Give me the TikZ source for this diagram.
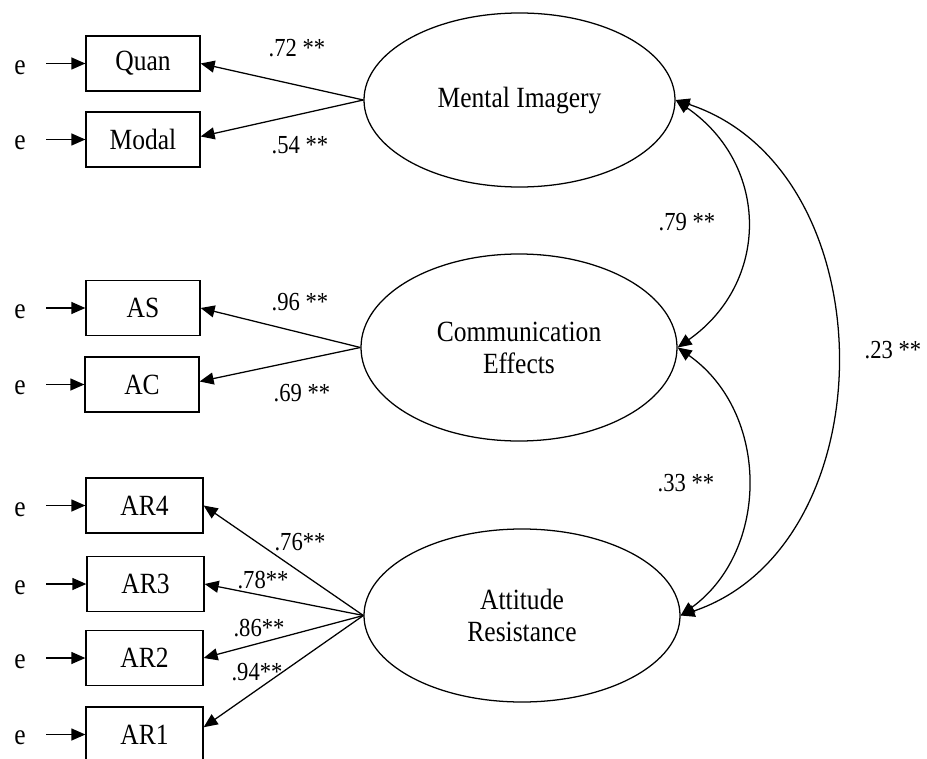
\documentclass[tikz,border=0pt]{standalone}
\usepackage{fontspec}
\setmainfont[FakeStretch=0.87]{Liberation Serif}
\usetikzlibrary{shapes.geometric,arrows.meta}
\begin{document}
\begin{tikzpicture}[x=0.75pt,y=-0.75pt,
  line width=0.95pt,
  >={Triangle[length=10.5pt,width=9pt]},
  indicator/.style={draw, rectangle, minimum width=85.5pt, minimum height=41.25pt,
    inner sep=0pt, font=\fontsize{22}{24}\selectfont},
  wideind/.style={indicator, minimum width=87.75pt},
  latent/.style={draw, ellipse, inner sep=0pt, align=center,
    font=\fontsize{22}{24}\selectfont},
  errlabel/.style={inner sep=0pt, font=\fontsize{22}{24}\selectfont},
  coef/.style={inner sep=0pt, font=\fontsize{19.5}{21}\selectfont},
  errarrow/.style={->, shorten <=15pt},
  loading/.style={->},
  covar/.style={<->}
]
\useasboundingbox (0,0) rectangle (927,759);

% latent factors
\node[latent, minimum width=233.25pt, minimum height=130.5pt] (MI) at (519.5,100) {Mental Imagery};
\node[latent, minimum width=237pt, minimum height=140.25pt] (CE) at (519,347.5) {Communication\\Effects};
\node[latent, minimum width=237pt, minimum height=129.75pt] (AR) at (522,615.5) {Attitude\\Resistance};

% observed indicators
\node[indicator] (Quan)  at (143,63.5)  {Quan};
\node[indicator] (Modal) at (143,139.5) {Modal};
\node[indicator] (AS)    at (143,308)   {AS};
\node[indicator] (AC)    at (142,384.5) {AC};
\node[wideind]   (AR4)   at (144.5,505.5) {AR4};
\node[wideind]   (AR3)   at (145.5,584)   {AR3};
\node[wideind]   (AR2)   at (144.5,658)   {AR2};
\node[wideind]   (AR1)   at (144.5,734.5) {AR1};

% error terms
\node[errlabel] (eQuan)  at (20,68)  {e};
\node[errlabel] (eModal) at (20,143) {e};
\node[errlabel] (eAS)    at (20,312) {e};
\node[errlabel] (eAC)    at (20,388) {e};
\node[errlabel] (eAR4)   at (20,510) {e};
\node[errlabel] (eAR3)   at (20,588) {e};
\node[errlabel] (eAR2)   at (20,662) {e};
\node[errlabel] (eAR1)   at (20,738) {e};

\foreach \ind in {Quan,Modal,AS,AC,AR4,AR3,AR2,AR1}
  \draw[errarrow] (e\ind.east |- \ind) -- (\ind.west);

% factor loadings
\draw[loading] (MI.west) -- (Quan.east);
\draw[loading] (MI.west) -- (Modal.3);
\draw[loading] (CE.west) -- (AS.east);
\draw[loading] (CE.west) -- (AC.3);
\draw[loading] (AR.west) -- (AR4.east);
\draw[loading] (AR.west) -- (AR3.east);
\draw[loading] (AR.west) -- (AR2.east);
\draw[loading] (AR.west) -- (AR1.7);

% factor covariances
\draw[covar] (MI.east) .. controls (770,165) and (770,282.5) .. (CE.east);
\draw[covar] (CE.east) .. controls (770,412.5) and (770,550.5) .. (AR.east);
\draw[covar] (MI.east) .. controls (889,170) and (889,545) .. (AR.east);

% coefficients
\node[coef] (c1)  at (297,48)  {.72 **};
\node[coef] (c2)  at (300,145) {.54 **};
\node[coef] (c3)  at (300,302) {.96 **};
\node[coef] (c4)  at (302,393) {.69 **};
\node[coef] (c5)  at (300,542) {.76**};
\node[coef] (c6)  at (263,580) {.78**};
\node[coef] (c7)  at (259,628) {.86**};
\node[coef] (c8)  at (257,672) {.94**};
\node[coef] (c9)  at (687,222) {.79 **};
\node[coef] (c10) at (686,483) {.33 **};
\node[coef] (c11) at (893,350) {.23 **};
\end{tikzpicture}
\end{document}
